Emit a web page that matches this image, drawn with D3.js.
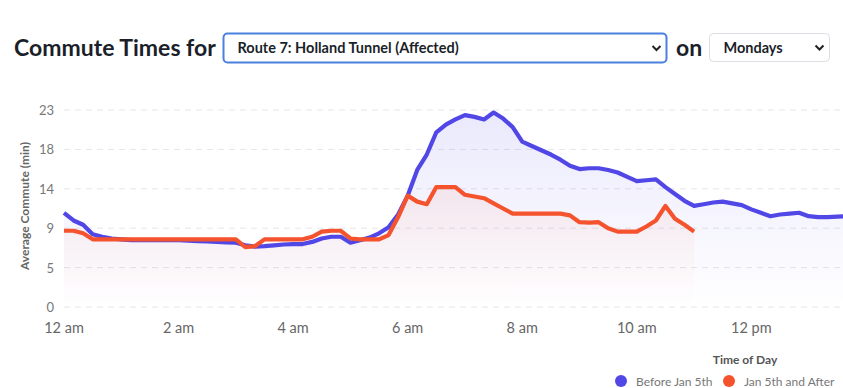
<!DOCTYPE html>
<html>
<head>
<meta charset="utf-8">
<script src="https://cdn.jsdelivr.net/npm/d3@7"></script>
<style>
body { margin: 0; background: #fff; font-family: Lato, "Noto Sans", sans-serif; }
svg { display: block; }
</style>
</head>
<body>
<svg id="chart"></svg>
<script>
var width = 843, height = 388;

// one reading every 10 minutes, starting at midnight
var stepMinutes = 10;
var before = [11.0, 10.1, 9.6, 8.5, 8.2, 8.0, 7.9, 7.8, 7.8, 7.8, 7.8, 7.8, 7.8, 7.75, 7.7, 7.65, 7.6, 7.55,
    7.5, 7.2, 7.05, 7.1, 7.2, 7.3, 7.35, 7.35, 7.6, 8.0, 8.2, 8.2, 7.5, 7.8, 8.1, 8.6, 9.3, 10.8,
    13.0, 16.0, 17.8, 20.4, 21.3, 21.9, 22.4, 22.2, 21.9, 22.7, 22.0, 21.0, 19.3, 18.8, 18.3, 17.8, 17.2, 16.5,
    16.1, 16.2, 16.2, 16.0, 15.7, 15.2, 14.7, 14.8, 14.9, 14.0, 13.2, 12.4, 11.8, 12.0, 12.2, 12.3, 12.1, 11.9,
    11.4, 11.0, 10.6, 10.8, 10.9, 11.0, 10.6, 10.5, 10.5, 10.55, 10.6];
var after = [8.9, 8.9, 8.6, 7.9, 7.9, 7.9, 7.9, 7.9, 7.9, 7.9, 7.9, 7.9, 7.9, 7.9, 7.9, 7.9, 7.9, 7.9,
    7.9, 7.0, 7.1, 7.9, 7.9, 7.9, 7.9, 7.9, 8.2, 8.8, 8.9, 8.9, 8.0, 7.9, 7.9, 7.9, 8.4, 10.5,
    13.0, 12.3, 12.0, 14.0, 14.0, 14.0, 13.1, 12.9, 12.7, 12.1, 11.5, 10.9, 10.9, 10.9, 10.9, 10.9, 10.9, 10.7,
    9.9, 9.85, 9.9, 9.2, 8.8, 8.8, 8.8, 9.4, 10.1, 11.8, 10.3, 9.6, 8.8];

var tickHours = [0, 2, 4, 6, 8, 10, 12];
var tickLabels = ["12 am", "2 am", "4 am", "6 am", "8 am", "10 am", "12 pm"];
var yMax = 23;
var yTicks = [0, 4.6, 9.2, 13.8, 18.4, 23];

var seriesNames = ["Before Jan 5th", "Jan 5th and After"];
var seriesColors = ["#5146e6", "#f4532e"];

var svg = d3.select("#chart").attr("width", width).attr("height", height);

// ---- header ----
var head = svg.append("g").attr("class", "header");
head.append("text").attr("x", 14).attr("y", 56)
    .attr("font-size", 23).attr("font-weight", 700).attr("fill", "#1b1f2a")
    .text("Commute Times for");

function dropdown(x, y, w, h, label, focused) {
    var g = head.append("g").attr("transform", "translate(" + x + "," + y + ")");
    g.append("rect").attr("width", w).attr("height", h).attr("rx", 4)
        .attr("fill", "#fff")
        .attr("stroke", focused ? "#4a80de" : "#dcdde2")
        .attr("stroke-width", focused ? 2 : 1);
    g.append("text").attr("x", 14).attr("y", h / 2 + 5)
        .attr("font-size", 14.5).attr("font-weight", 700).attr("fill", "#1b1f2a")
        .text(label);
    g.append("path")
        .attr("d", "M" + (w - 14) + "," + (h / 2 - 2) + "l4,4l4,-4")
        .attr("fill", "none").attr("stroke", "#222").attr("stroke-width", 2);
}
dropdown(223.5, 33.5, 443, 29, "Route 7: Holland Tunnel (Affected)", true);
head.append("text").attr("x", 676).attr("y", 56)
    .attr("font-size", 23).attr("font-weight", 700).attr("fill", "#1b1f2a")
    .text("on");
dropdown(709.5, 33.5, 120, 28, "Mondays", false);

// ---- chart ----
var x = d3.scaleLinear().domain([0, 13.6]).range([64, 843]);
var y = d3.scaleLinear().domain([0, yMax]).range([307, 110]);

function toPoints(arr) {
    return arr.map(function(v, i) { return { h: i * stepMinutes / 60, v: v }; });
}
var series = [toPoints(before), toPoints(after)];

var defs = svg.append("defs");
seriesColors.forEach(function(c, i) {
    var grad = defs.append("linearGradient").attr("id", "fill" + i)
        .attr("gradientUnits", "userSpaceOnUse")
        .attr("x1", 0).attr("x2", 0).attr("y1", y(yMax)).attr("y2", y(0));
    grad.append("stop").attr("offset", "0%").attr("stop-color", c).attr("stop-opacity", i == 0 ? 0.12 : 0.13);
    grad.append("stop").attr("offset", "100%").attr("stop-color", c).attr("stop-opacity", 0);
});

// gridlines
svg.append("g").selectAll("line").data(yTicks).enter().append("line")
    .attr("x1", 64).attr("x2", width)
    .attr("y1", function(d) { return y(d); }).attr("y2", function(d) { return y(d); })
    .attr("stroke", "#e6e6ea").attr("stroke-dasharray", "6,5");

// y axis labels
svg.append("g").selectAll("text").data(yTicks).enter().append("text")
    .attr("x", 54).attr("y", function(d) { return y(d) + 5; })
    .attr("text-anchor", "end").attr("font-size", 13).attr("fill", "#777")
    .text(function(d) { return d3.format(".0f")(d); });

svg.append("text")
    .attr("transform", "translate(29,206) rotate(-90)")
    .attr("text-anchor", "middle").attr("font-size", 12).attr("font-weight", 700).attr("fill", "#666")
    .text("Average Commute (min)");

// x axis labels
svg.append("g").selectAll("text").data(tickHours).enter().append("text")
    .attr("x", function(d) { return x(d); }).attr("y", 333)
    .attr("text-anchor", "middle").attr("font-size", 14.5).attr("fill", "#666")
    .text(function(d, i) { return tickLabels[i]; });

// areas + lines
var area = d3.area().x(function(d) { return x(d.h); }).y0(y(0)).y1(function(d) { return y(d.v); });
var line = d3.line().x(function(d) { return x(d.h); }).y(function(d) { return y(d.v); });

svg.append("g").selectAll("path").data(series).enter().append("path")
    .attr("d", area).attr("fill", function(d, i) { return "url(#fill" + i + ")"; });

svg.append("g").selectAll("path").data(series).enter().append("path")
    .attr("d", line).attr("fill", "none")
    .attr("stroke", function(d, i) { return seriesColors[i]; })
    .attr("stroke-width", 4.2).attr("stroke-linejoin", "round");

// legend
svg.append("text").attr("x", 745).attr("y", 364).attr("text-anchor", "middle")
    .attr("font-size", 12).attr("font-weight", 700).attr("fill", "#555")
    .text("Time of Day");
var legendX = [621, 729];
var leg = svg.append("g").selectAll("g").data(seriesNames).enter().append("g")
    .attr("transform", function(d, i) { return "translate(" + legendX[i] + ",381)"; });
leg.append("circle").attr("r", 6).attr("fill", function(d, i) { return seriesColors[i]; });
leg.append("text").attr("x", 15).attr("y", 4.5).attr("font-size", 12).attr("fill", "#777")
    .text(function(d) { return d; });
</script>
</body>
</html>
